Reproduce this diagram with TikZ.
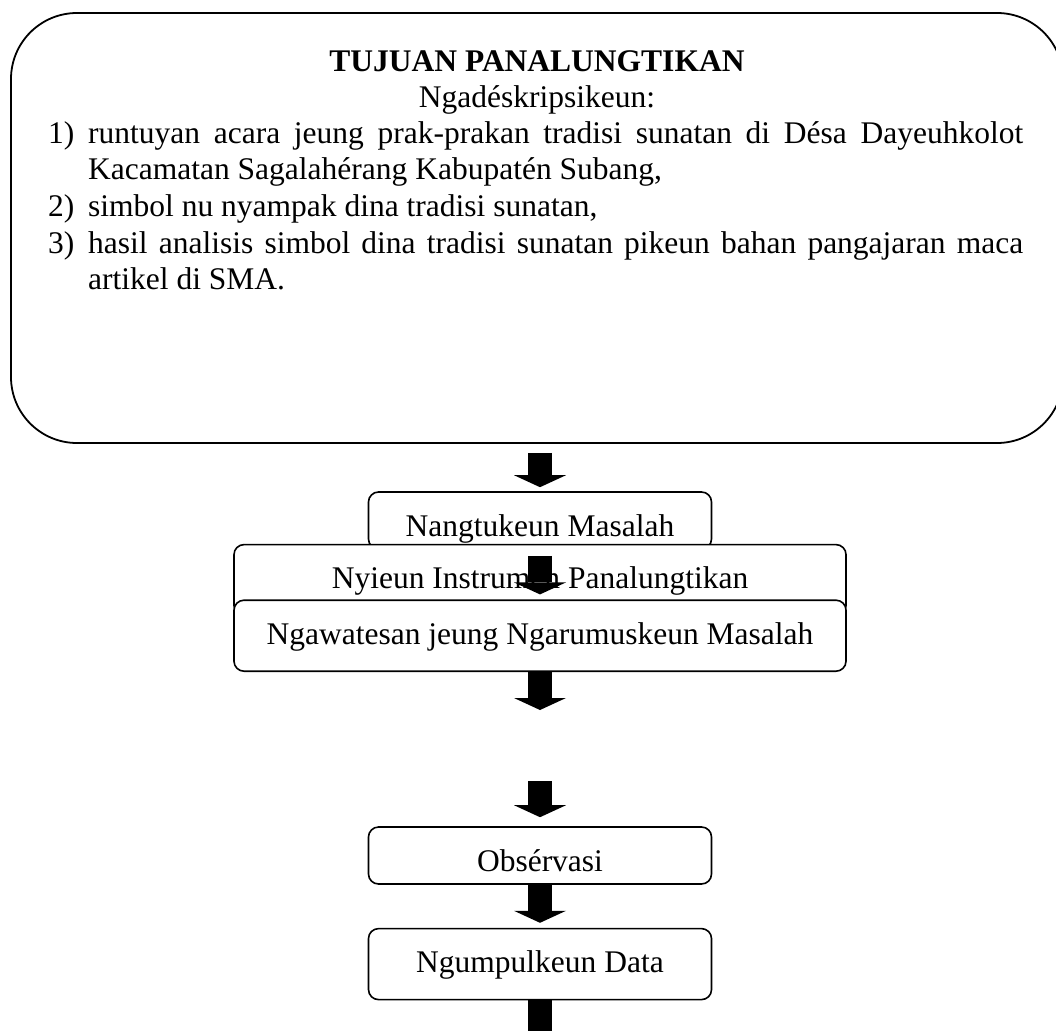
\documentclass[tikz,border=0pt]{standalone}
\usepackage{fontspec}
\setmainfont{Liberation Serif}
\usetikzlibrary{shapes}
\usetikzlibrary{arrows}
\usetikzlibrary{arrows.meta}
\usetikzlibrary{positioning}

\begin{document}
\fontsize{31.5}{36.7}\selectfont
\begin{tikzpicture}[x=1pt,y=1pt]
\tikzstyle{frame}=[draw,line width=1.8pt,rounded corners=66pt,
minimum width=1052pt,minimum height=430pt,inner sep=0pt]
\tikzstyle{stage}=[draw,fill=white,line width=1.6pt,rounded corners=10pt,
inner xsep=0pt,inner ysep=0pt,text height=44pt,text depth=13pt,minimum width=343pt]
\tikzstyle{wide stage}=[stage,minimum width=612pt,text depth=27pt]
\tikzstyle{flow}=[line width=24pt,
-{Triangle[width=52pt,length=12pt,line width=0pt]}]
\useasboundingbox (0,0) rectangle (1056,-1030);
\node[frame] (aim) at (537,-228) {};
\node[font=\bfseries,anchor=base] (title) at (537,-72) {TUJUAN PANALUNGTIKAN};
\node[anchor=base] (lead) at (537,-107) {Ngadéskripsikeun:};
\node[anchor=base west,text width=975pt,align=justify,inner sep=0pt] (goals) at (48,-143)
{\hyphenpenalty=10000
\hangindent=40pt\hangafter=1\makebox[40pt][l]{1)}runtuyan acara jeung prak-prakan tradisi sunatan di Désa Dayeuhkolot\linebreak
Kacamatan Sagalahérang Kabupatén Subang,\par
\hangindent=40pt\hangafter=1\makebox[40pt][l]{2)}simbol nu nyampak dina tradisi sunatan,\par
\hangindent=40pt\hangafter=1\makebox[40pt][l]{3)}hasil analisis simbol dina tradisi sunatan pikeun bahan pangajaran maca\linebreak
artikel di SMA.\par};
\node[stage] (determine) at (540,-520.5) {Nangtukeun Masalah};
\node[wide stage,below=-6pt of determine] (instrument) {Nyieun Instrumen Panalungtikan};
\node[wide stage,below=-17pt of instrument] (formulate) {Ngawatesan jeung Ngarumuskeun Masalah};
\coordinate (gap top) at (540,-710);
\coordinate (gap bottom) at (540,-781);
\node[stage] (observe) at (540,-855.5) {Obsérvasi};
\node[stage,text depth=27pt,below=43pt of observe] (collect) {Ngumpulkeun Data};
\coordinate (next) at (540,-1045);
\draw[flow,shorten <=9pt,shorten >=4pt] (determine.north |- aim.south) -- (determine.north);
\draw[flow,shorten <=6pt,shorten >=5pt] (determine.south) -- (formulate.north);
\draw[flow] (formulate.south) -- (gap top);
\draw[flow,shorten >=9pt] (gap bottom) -- (observe.north);
\draw[flow,shorten >=5pt] (observe.south) -- (collect.north);
\draw[flow] (collect.south) -- (next);
\end{tikzpicture}
\end{document}
